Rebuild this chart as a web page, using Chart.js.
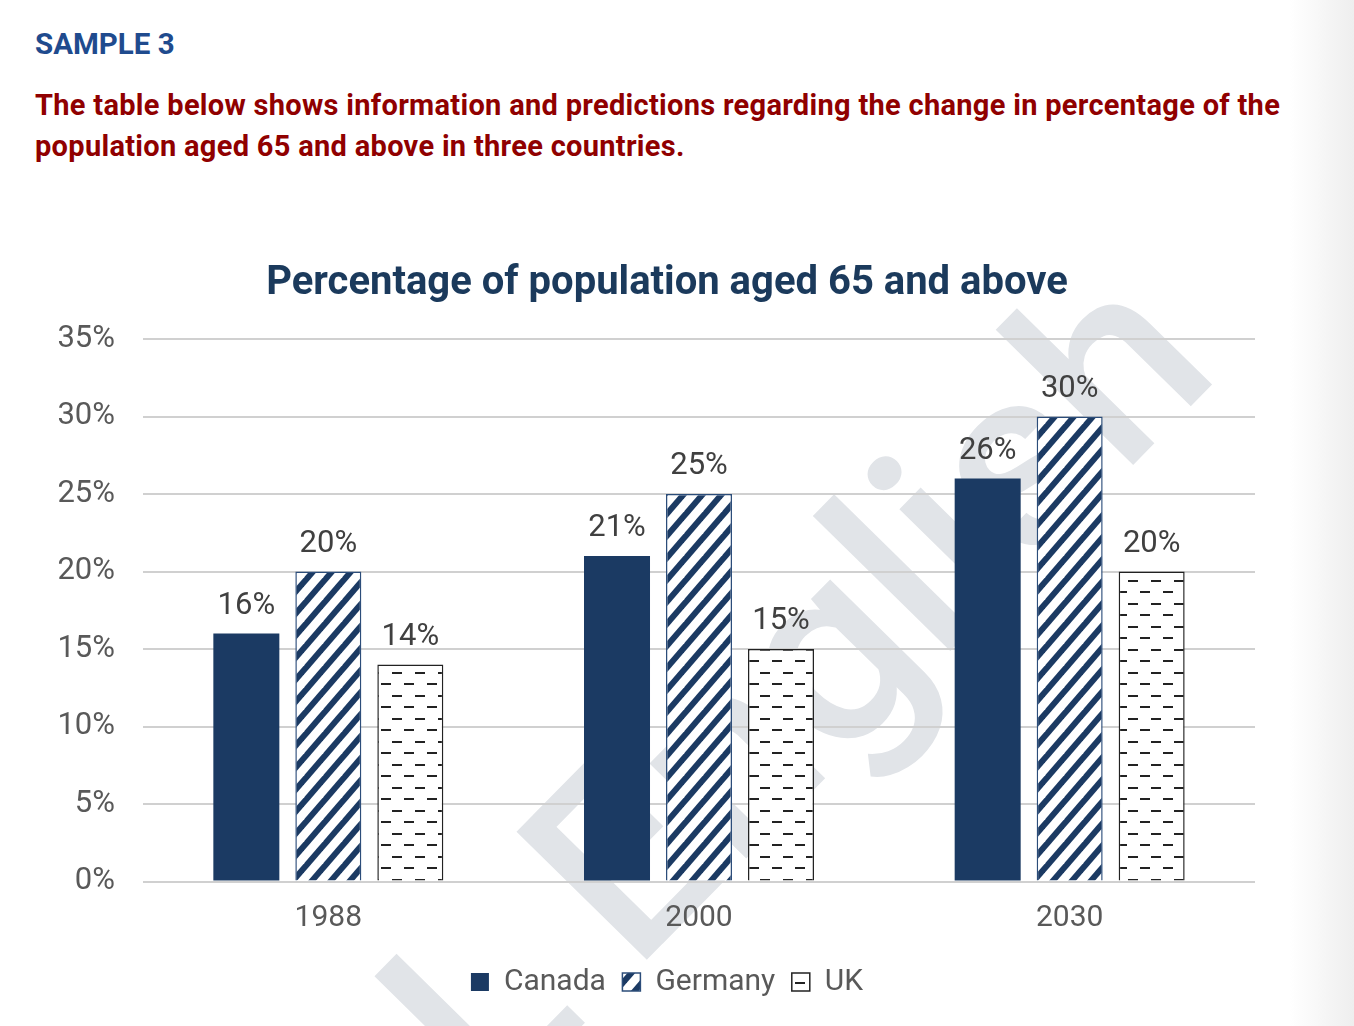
<!DOCTYPE html>
<html>
<head>
<meta charset="utf-8">
<script src="https://cdn.jsdelivr.net/npm/chart.js@4.4.1/dist/chart.umd.min.js"></script>
<style>
  body { margin: 0; width: 1354px; height: 1026px; overflow: hidden; background: #fff; position: relative; font-family: Roboto, sans-serif; }
  #edge { position: absolute; right: 0; top: 0; width: 64px; height: 1026px; background: linear-gradient(to right, #fff, #eeeeee); }
  #sample { position: absolute; left: 35px; top: 27px; font-size: 29.5px; font-weight: 700; line-height: 34px; color: #1f4b8e; }
  #intro { position: absolute; left: 35px; top: 85px; width: 1280px; font-size: 29px; letter-spacing: 0.3px; font-weight: 700; line-height: 41px; color: #900000; }
  #wrap { position: absolute; left: 0; top: 230px; width: 1334px; height: 796px; }
</style>
</head>
<body>
<div id="edge"></div>
<div id="sample">SAMPLE 3</div>
<div id="intro">The table below shows information and predictions regarding the change in percentage of the population aged 65 and above in three countries.</div>
<div id="wrap"><canvas id="chart"></canvas></div>
<script>
var years = ['1988', '2000', '2030'];
var canada = [16, 21, 26];
var germany = [20, 25, 30];
var uk = [14, 15, 20];
var yMax = 35;
var yStep = 5;

var navy = '#1b3a63';

// diagonal stripes for Germany
function stripePattern() {
  var c = document.createElement('canvas');
  c.width = 19; c.height = 22;
  var g = c.getContext('2d');
  g.fillStyle = '#fff';
  g.fillRect(0, 0, 19, 22);
  g.strokeStyle = navy;
  g.lineWidth = 6;
  for (var k = -1; k <= 3; k++) {
    g.beginPath();
    g.moveTo(19 * (k + 1), -22);
    g.lineTo(19 * (k - 2), 44);
    g.stroke();
  }
  return g.createPattern(c, 'repeat');
}

// short dashes for UK
function dashPattern() {
  var c = document.createElement('canvas');
  c.width = 23; c.height = 23;
  var g = c.getContext('2d');
  g.fillStyle = '#fff';
  g.fillRect(0, 0, 23, 23);
  g.fillStyle = '#222';
  g.fillRect(1, 5, 10, 2);
  g.fillRect(13, 16, 10, 2);
  return g.createPattern(c, 'repeat');
}

var watermark = {
  id: 'watermark',
  beforeDraw: function(chart) {
    var ctx = chart.ctx;
    ctx.save();
    ctx.font = '500 100px Roboto';
    var size = 100 * 840 / ctx.measureText('English').width;
    ctx.font = '500 ' + size + 'px Roboto';
    ctx.fillStyle = '#e1e4e8';
    ctx.translate(588, 928 - 230);
    ctx.rotate(-45.5 * Math.PI / 180);
    ctx.textAlign = 'left';
    ctx.fillText('English', 0, 0);
    ctx.textAlign = 'right';
    ctx.fillText('DOL', -ctx.measureText(' ').width, 0);
    ctx.restore();
  }
};

var valueLabels = {
  id: 'valueLabels',
  afterDatasetsDraw: function(chart) {
    var ctx = chart.ctx;
    ctx.save();
    ctx.font = '31px Roboto';
    ctx.fillStyle = '#404040';
    ctx.textAlign = 'center';
    ctx.textBaseline = 'alphabetic';
    chart.data.datasets.forEach(function(ds, i) {
      chart.getDatasetMeta(i).data.forEach(function(bar, j) {
        ctx.fillText(ds.data[j] + '%', bar.x, bar.y - 20);
      });
    });
    ctx.restore();
  }
};

var config = {
  type: 'bar',
  data: {
    labels: years,
    datasets: [{
      label: 'Canada',
      data: canada,
      backgroundColor: navy,
      borderWidth: 0
    }, {
      label: 'Germany',
      data: germany,
      backgroundColor: stripePattern(),
      borderColor: '#2c4d7a',
      borderWidth: 1.5
    }, {
      label: 'UK',
      data: uk,
      backgroundColor: dashPattern(),
      borderColor: '#222',
      borderWidth: 1.5
    }]
  },
  options: {
    responsive: true,
    maintainAspectRatio: false,
    animation: false,
    categoryPercentage: 0.6636,
    barPercentage: 0.805,
    layout: { padding: { left: 0, right: 0, top: 0, bottom: 19 } },
    plugins: {
      title: {
        display: true,
        text: 'Percentage of population aged 65 and above',
        color: '#1b3a5c',
        font: { family: 'Roboto', size: 40, weight: '700' },
        padding: { top: 30, bottom: 31 }
      },
      legend: {
        position: 'bottom',
        labels: {
          color: '#595959',
          font: { family: 'Roboto', size: 30 },
          boxWidth: 18,
          boxHeight: 18,
          padding: 16.5
        }
      },
      tooltip: { enabled: false }
    },
    scales: {
      x: {
        afterFit: function(scale) { scale.height += 3; },
        grid: { display: false },
        border: { display: false },
        ticks: { color: '#595959', font: { family: 'Roboto', size: 30 }, padding: 11 }
      },
      y: {
        min: 0,
        max: yMax,
        afterFit: function(scale) { scale.width = 143; },
        grid: { color: '#d0d0d0', lineWidth: 2, drawTicks: false },
        border: { display: false },
        ticks: {
          stepSize: yStep,
          color: '#595959',
          font: { family: 'Roboto', size: 31 },
          padding: 28,
          callback: function(v) { return v + '%'; }
        }
      },
      // empty right-hand space so the plot ends where the reference does
      spacer: {
        type: 'linear',
        position: 'right',
        afterFit: function(scale) { scale.width = 79; },
        grid: { display: false },
        border: { display: false },
        ticks: { display: false }
      }
    }
  },
  plugins: [watermark, valueLabels]
};

var ctx = document.getElementById('chart').getContext('2d');
var mychart = new Chart(ctx, config);
</script>
</body>
</html>
